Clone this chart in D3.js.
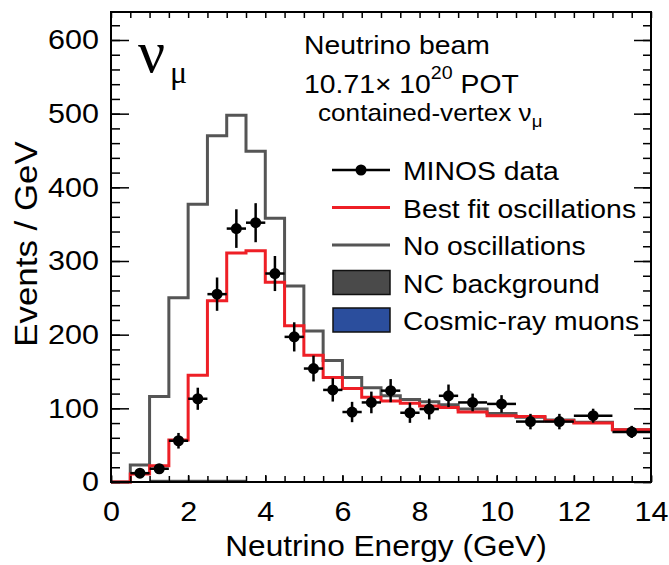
<!DOCTYPE html>
<html>
<head>
<meta charset="utf-8">
<script src="https://cdn.jsdelivr.net/npm/d3@7"></script>
<style>
  body { margin: 0; background: #fff; }
  svg text { font-family: "Liberation Sans", Arial, sans-serif; fill: #000; }
</style>
</head>
<body>
<div id="chart"></div>
<script>
// bin edges in GeV (0.5 GeV up to 9, then wider bins)
const binEdges = [0, 0.5, 1, 1.5, 2, 2.5, 3, 3.5, 4, 4.5, 5, 5.5, 6, 6.5, 7, 7.5, 8, 8.5, 9, 9.75, 10.5, 11.25, 12, 13, 14];
// events / GeV for each bin
const bestFit = [0, 11, 22, 57, 145, 246, 311, 314, 271, 212, 172, 142, 127, 115, 110, 107, 103, 101, 95, 90, 89, 83, 80, 71];
const noOsc = [0, 23, 116, 250, 377, 470, 498, 449, 358, 266, 205, 165, 142, 128, 117, 112, 109, 105, 99, 93, 88, 84, 81, 71];
const ncBackground = [0, 0, 3, 3, 3, 3, 3, 0, 0, 0, 0, 0, 0, 0, 0, 0, 0, 0, 0, 0, 0, 0, 0, 0];
const cosmicMuons = [0, 0, 0, 0, 0, 0, 0, 0, 0, 0, 0, 0, 0, 0, 0, 0, 0, 0, 0, 0, 0, 0, 0, 0];
const dataValues = [null, 12, 18, 56, 113, 255, 344, 352, 283, 197, 154, 125, 95, 108, 124, 94, 99, 117, 108, 106, 82, 82, 90, 68];
const dataErrors = [null, 4.7, 5.9, 10.6, 15, 22.6, 26.2, 26.5, 23.8, 19.8, 17.5, 15.8, 13.8, 14.7, 15.7, 13.7, 14.1, 15.3, 12, 11.9, 10.5, 10.5, 9.5, 8.2];
const xTicks = [0, 2, 4, 6, 8, 10, 12, 14];
const yTicks = [0, 100, 200, 300, 400, 500, 600];
const legendItems = ["MINOS data", "Best fit oscillations", "No oscillations", "NC background", "Cosmic-ray muons"];

const width = 669, height = 565;
const margin = {top: 12, right: 18, bottom: 83, left: 111};
const red = "#ee1f26", gray = "#555555", ncFill = "#4a4a4a", cosmicFill = "#2b4e9d";
const font = "\"Liberation Sans\", Arial, sans-serif";
const serif = "\"Liberation Serif\", \"Times New Roman\", serif";
const stretch = 1.09; // the original lettering is a bit wider than Arial

const svg = d3.select("#chart").append("svg")
    .attr("width", width)
    .attr("height", height);

// move x/y into a transform so the glyphs can be widened around their anchor
const widen = sel => sel.each(function () {
    const t = d3.select(this);
    const tx = +t.attr("x") || 0, ty = +t.attr("y") || 0;
    t.attr("x", 0).attr("y", 0)
        .attr("transform", `translate(${tx},${ty}) scale(${stretch},1)`);
});

const x = d3.scaleLinear()
    .domain([0, 14])
    .range([margin.left, width - margin.right]);
const y = d3.scaleLinear()
    .domain([0, 638])
    .range([height - margin.bottom, margin.top]);

const bins = bestFit.map((d, i) => ({x0: binEdges[i], x1: binEdges[i + 1], i}));

// step path from bin values
const stepLine = vals => {
    const pts = vals.map((v, i) => [binEdges[i], v]);
    pts.push([binEdges[binEdges.length - 1], vals[vals.length - 1]]);
    return d3.line()
        .x(d => x(d[0]))
        .y(d => y(d[1]))
        .curve(d3.curveStepAfter)(pts);
};

// NC background & cosmics as filled bars
svg.selectAll(".nc")
    .data(bins.filter(b => ncBackground[b.i] > 0))
    .join("rect")
    .attr("class", "nc")
    .attr("x", b => x(b.x0))
    .attr("width", b => x(b.x1) - x(b.x0))
    .attr("y", b => y(ncBackground[b.i]))
    .attr("height", b => y(0) - y(ncBackground[b.i]))
    .attr("fill", ncFill);

svg.selectAll(".cosmic")
    .data(bins.filter(b => cosmicMuons[b.i] > 0))
    .join("rect")
    .attr("class", "cosmic")
    .attr("x", b => x(b.x0))
    .attr("width", b => x(b.x1) - x(b.x0))
    .attr("y", b => y(cosmicMuons[b.i]))
    .attr("height", b => y(0) - y(cosmicMuons[b.i]))
    .attr("fill", cosmicFill);

svg.append("path")
    .attr("d", stepLine(noOsc))
    .attr("fill", "none")
    .attr("stroke", gray)
    .attr("stroke-width", 3);

svg.append("path")
    .attr("d", stepLine(bestFit))
    .attr("fill", "none")
    .attr("stroke", red)
    .attr("stroke-width", 3);

// data points with error bars
const pts = bins.filter(b => dataValues[b.i] != null);
const g = svg.append("g");
g.selectAll(".xerr")
    .data(pts)
    .join("line")
    .attr("x1", b => x(b.x0))
    .attr("x2", b => x(b.x1))
    .attr("y1", b => y(dataValues[b.i]))
    .attr("y2", b => y(dataValues[b.i]))
    .attr("stroke", "#000")
    .attr("stroke-width", 2.5);
g.selectAll(".yerr")
    .data(pts)
    .join("line")
    .attr("x1", b => x((b.x0 + b.x1) / 2))
    .attr("x2", b => x((b.x0 + b.x1) / 2))
    .attr("y1", b => y(dataValues[b.i] - dataErrors[b.i]))
    .attr("y2", b => y(dataValues[b.i] + dataErrors[b.i]))
    .attr("stroke", "#000")
    .attr("stroke-width", 2.5);
g.selectAll("circle")
    .data(pts)
    .join("circle")
    .attr("cx", b => x((b.x0 + b.x1) / 2))
    .attr("cy", b => y(dataValues[b.i]))
    .attr("r", 5.5)
    .attr("fill", "#000");

// axes: ticks inside on all four sides
const yMinor = d3.range(0, 621, 20);
const xMinor = d3.range(0, 14.01, 0.5);
const styleAxis = sel => {
    sel.select(".domain").remove();
    sel.selectAll("line").attr("stroke", "#000").attr("stroke-width", 1.5);
};

svg.append("g")
    .attr("transform", `translate(${margin.left},0)`)
    .call(d3.axisLeft(y).tickValues(yMinor).tickSize(-9).tickFormat(""))
    .call(styleAxis);
svg.append("g")
    .attr("transform", `translate(${margin.left},0)`)
    .call(d3.axisLeft(y).tickValues(yTicks).tickSize(-18).tickPadding(12).tickFormat(d3.format("d")))
    .call(styleAxis)
    .selectAll("text")
    .style("font-family", font)
    .style("font-size", "28px")
    .call(widen);

svg.append("g")
    .attr("transform", `translate(${width - margin.right},0)`)
    .call(d3.axisRight(y).tickValues(yMinor).tickSize(-8).tickFormat(""))
    .call(styleAxis);
svg.append("g")
    .attr("transform", `translate(${width - margin.right},0)`)
    .call(d3.axisRight(y).tickValues(yTicks).tickSize(-17).tickFormat(""))
    .call(styleAxis);

svg.append("g")
    .attr("transform", `translate(0,${height - margin.bottom})`)
    .call(d3.axisBottom(x).tickValues(xMinor).tickSize(-6).tickFormat(""))
    .call(styleAxis);
svg.append("g")
    .attr("transform", `translate(0,${height - margin.bottom})`)
    .call(d3.axisBottom(x).tickValues(xTicks).tickSize(-7).tickPadding(19).tickFormat(d3.format("d")))
    .call(styleAxis)
    .selectAll("text")
    .style("font-family", font)
    .style("font-size", "28px")
    .call(widen);

svg.append("g")
    .attr("transform", `translate(0,${margin.top})`)
    .call(d3.axisTop(x).tickValues(xMinor).tickSize(-6).tickFormat(""))
    .call(styleAxis);

// frame
svg.append("rect")
    .attr("x", margin.left)
    .attr("y", margin.top)
    .attr("width", width - margin.left - margin.right)
    .attr("height", height - margin.top - margin.bottom)
    .attr("fill", "none")
    .attr("stroke", "#000")
    .attr("stroke-width", 2);

// axis titles
svg.append("text")
    .attr("x", 386)
    .attr("y", 556)
    .attr("text-anchor", "middle")
    .style("font-size", "29px")
    .text("Neutrino Energy (GeV)")
    .call(widen);

svg.append("text")
    .attr("transform", `translate(37,244) rotate(-90) scale(${stretch},1)`)
    .attr("text-anchor", "middle")
    .style("font-size", "32px")
    .text("Events / GeV");

// big nu_mu label
svg.append("text")
    .attr("x", 138)
    .attr("y", 72)
    .style("font-family", serif)
    .style("font-size", "60px")
    .text("ν");
svg.append("text")
    .attr("x", 170)
    .attr("y", 83)
    .style("font-family", serif)
    .style("font-size", "32px")
    .text("μ");

// info text
svg.append("text")
    .attr("x", 304)
    .attr("y", 54)
    .style("font-size", "26px")
    .text("Neutrino beam")
    .call(widen);
const pot = svg.append("text")
    .attr("x", 304)
    .attr("y", 93)
    .style("font-size", "26px");
pot.append("tspan").text("10.71\u00d7 10");
pot.append("tspan").attr("dy", -14).style("font-size", "18px").text("20");
pot.append("tspan").attr("dy", 14).text(" POT");
pot.call(widen);

const cv = svg.append("text")
    .attr("x", 318)
    .attr("y", 121)
    .style("font-size", "24px");
cv.append("tspan").text("contained-vertex ν");
cv.append("tspan").attr("dy", 6).style("font-size", "17px").text("μ");
cv.call(widen);

// legend
const legendY = [170, 207.5, 245, 282.5, 320];
const lg = svg.append("g");
legendItems.forEach((label, i) => {
    const cy = legendY[i];
    if (i === 0) {
        lg.append("line").attr("x1", 332).attr("x2", 390).attr("y1", cy).attr("y2", cy)
            .attr("stroke", "#000").attr("stroke-width", 2.5);
        lg.append("circle").attr("cx", 361).attr("cy", cy).attr("r", 5.5).attr("fill", "#000");
    } else if (i === 1 || i === 2) {
        lg.append("line").attr("x1", 332).attr("x2", 390).attr("y1", cy).attr("y2", cy)
            .attr("stroke", i === 1 ? red : gray).attr("stroke-width", 3);
    } else {
        lg.append("rect").attr("x", 333).attr("y", cy - 12).attr("width", 57).attr("height", 24)
            .attr("fill", i === 3 ? ncFill : cosmicFill)
            .attr("stroke", "#111").attr("stroke-width", 1.5);
    }
    lg.append("text")
        .attr("x", 403)
        .attr("y", cy + 10)
        .style("font-size", "26px")
        .text(label)
        .call(widen);
});
</script>
</body>
</html>
